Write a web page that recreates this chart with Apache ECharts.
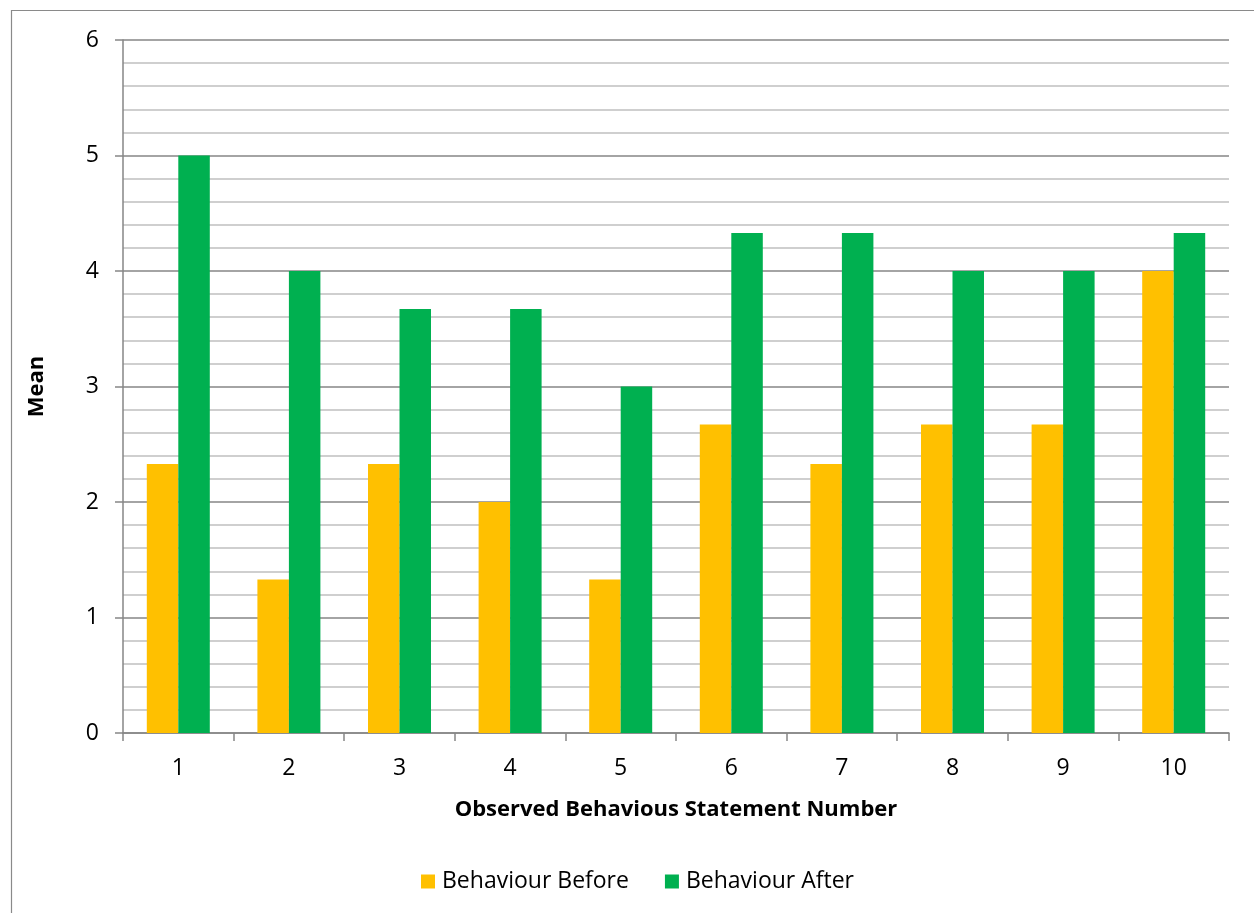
<!DOCTYPE html>
<html>
<head>
<meta charset="utf-8">
<script src="https://cdn.jsdelivr.net/npm/echarts@6/dist/echarts.min.js"></script>
<style>
  html, body { margin: 0; padding: 0; background: #fff; }
  #chart { width: 1254px; height: 913px; }
</style>
</head>
<body>
<div id="chart"></div>
<script>
// Statement numbers along the x axis
const categories = ['1', '2', '3', '4', '5', '6', '7', '8', '9', '10'];
// Mean score per statement, before and after
const behaviourBefore = [2.33, 1.33, 2.33, 2.0, 1.33, 2.67, 2.33, 2.67, 2.67, 4.0];
const behaviourAfter  = [5.0, 4.0, 3.67, 3.67, 3.0, 4.33, 4.33, 4.0, 4.0, 4.33];
const seriesNames = ['Behaviour Before', 'Behaviour After'];

const fontFamily = '"Open Sans", Lato, sans-serif';
const chart = echarts.init(document.getElementById('chart'), null, { renderer: 'canvas' });

chart.setOption({
  animation: false,
  backgroundColor: '#ffffff',
  textStyle: { fontFamily: fontFamily, color: '#000' },
  graphic: [{
    type: 'rect',
    silent: true,
    shape: { x: 11.5, y: 10.5, width: 1400, height: 1000 },
    style: { fill: 'none', stroke: '#8a8a8a', lineWidth: 1.2 }
  }],
  grid: { left: 123, right: 25, top: 40, bottom: 180, containLabel: false },
  legend: {
    bottom: 15,
    left: 416,
    itemWidth: 14,
    itemHeight: 14,
    itemGap: 36,
    icon: 'rect',
    textStyle: { fontFamily: fontFamily, fontSize: 23, color: '#000', padding: [0, 0, 0, 2] },
    data: seriesNames
  },
  xAxis: {
    type: 'category',
    data: categories,
    name: 'Observed Behavious Statement Number',
    nameLocation: 'middle',
    nameGap: 66,
    nameTextStyle: { fontFamily: fontFamily, fontSize: 22, fontWeight: 'bold', color: '#000' },
    axisLine: { lineStyle: { color: '#868686', width: 1.5 } },
    axisTick: { show: true, alignWithLabel: false, interval: 0, length: 8, lineStyle: { color: '#868686', width: 1.5 } },
    axisLabel: { fontFamily: fontFamily, fontSize: 23, color: '#000', margin: 24 },
    splitLine: { show: false }
  },
  yAxis: {
    type: 'value',
    min: 0,
    max: 6,
    interval: 1,
    name: 'Mean',
    nameLocation: 'middle',
    nameRotate: 90,
    nameGap: 75,
    nameTextStyle: { fontFamily: fontFamily, fontSize: 22, fontWeight: 'bold', color: '#000' },
    axisLine: { show: true, lineStyle: { color: '#868686', width: 1.5 } },
    axisTick: { show: true, length: 8, lineStyle: { color: '#868686', width: 1.5 } },
    axisLabel: { fontFamily: fontFamily, fontSize: 23, color: '#000', margin: 24 },
    splitLine: { show: true, lineStyle: { color: '#868686', width: 1.5 } },
    minorTick: { show: false, splitNumber: 5 },
    minorSplitLine: { show: true, lineStyle: { color: '#c0c0c0', width: 1.5 } }
  },
  series: [
    {
      name: seriesNames[0],
      type: 'bar',
      data: behaviourBefore,
      barWidth: 31.5,
      barGap: '0%',
      itemStyle: { color: '#FFC000' }
    },
    {
      name: seriesNames[1],
      type: 'bar',
      data: behaviourAfter,
      barWidth: 31.5,
      barGap: '0%',
      itemStyle: { color: '#00B050' }
    }
  ]
});
</script>
</body>
</html>
